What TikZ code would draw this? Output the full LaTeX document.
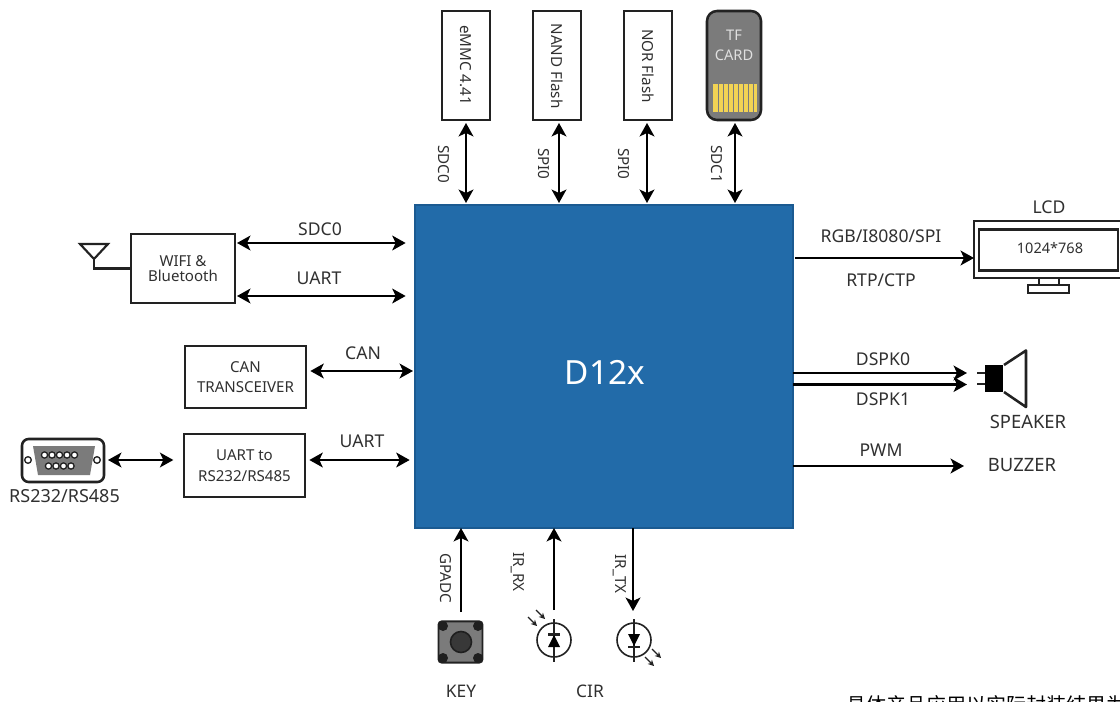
\documentclass[tikz,border=0pt]{standalone}
\usepackage{fontspec}
\setmainfont{Noto Sans}
\newfontfamily\cjkfont{Noto Sans CJK SC}
\usetikzlibrary{arrows.meta,calc}
\definecolor{ink}{HTML}{222222}
\definecolor{txt}{HTML}{303030}
\definecolor{socblue}{HTML}{226BA9}
\definecolor{socedge}{HTML}{1B5A91}
\definecolor{cardgray}{HTML}{7B7B7B}
\definecolor{gold}{HTML}{F2D354}
\tikzset{
  every node/.style={inner sep=0pt,outer sep=0pt,text=txt,align=center},
  boxn/.style n args={2}{draw=ink,line width=1.9pt,fill=white,minimum width=#1*0.75pt,minimum height=#2*0.75pt,font=\fontsize{11.3pt}{13.5pt}\selectfont},
  lab/.style={font=\fontsize{13.2pt}{15pt}\selectfont},
  vlab/.style={rotate=-90,font=\fontsize{11.4pt}{14pt}\selectfont},
  tipb/.style={>={Stealth[length=10pt,width=11pt,inset=2.5pt]}},
  both/.style={tipb,<->,draw=black,line width=1.9pt,shorten >=1.5pt,shorten <=1.5pt},
  fwd/.style={tipb,->,draw=black,line width=1.9pt},
  thin line/.style={draw=ink,line width=1.6pt},
}
\begin{document}
\begin{tikzpicture}[x=0.75pt,y=-0.75pt]
\useasboundingbox (0,0) rectangle (1120,702);
\clip (0,0) rectangle (1120,702);
\fill[white] (0,0) rectangle (1120,702);
% SoC
\node[draw=socedge,line width=1.8pt,fill=socblue,minimum width=283.5pt,minimum height=242.25pt] (main) at (604,366.5) {};
\node[text=white,font=\fontsize{25pt}{30pt}\selectfont] (mainlabel) at (605,372) {D12x};
% top memories
\node[boxn={48}{109}] (emmc) at (466,65.5) {};
\node[vlab] (emmct) at (466,65) {eMMC 4.41};
\node[boxn={48}{109}] (nand) at (557,65.5) {};
\node[vlab] (nandt) at (557,66) {NAND Flash};
\node[boxn={48}{109}] (nor) at (648,65.5) {};
\node[vlab] (nort) at (648,66) {NOR Flash};
\node[draw=ink,line width=1.9pt,fill=cardgray,rounded corners=7.5pt,minimum width=40.5pt,minimum height=81.75pt] (tf) at (734,65.5) {};
\node[text=white!88!black,font=\fontsize{11pt}{14.5pt}\selectfont] (tft) at (734,45.5) {TF\\CARD};
\fill[gold] (713,84) rectangle (757,112);
\foreach \i in {0,...,7} \draw[cardgray,line width=0.6pt] (717.9+\i*5,84) -- (717.9+\i*5,112);
\coordinate (a1) at (466,121);
\coordinate (a2) at (559,121);
\coordinate (a3) at (647,121);
\coordinate (a4) at (735,121);
\foreach \c in {a1,a2,a3,a4} \draw[both] (\c) -- (\c |- main.north);
\node[vlab] (l1) at (444,164) {SDC0};
\node[vlab] (l2) at (544,164) {SPI0};
\node[vlab] (l3) at (624,164) {SPI0};
\node[vlab] (l4) at (717,164) {SDC1};
% wifi
\node[boxn={104}{69}] (wifi) at (183,268.5) {WIFI \&\\[-2pt]Bluetooth};
\coordinate (w1) at (235,243);
\coordinate (w2) at (235,296);
\draw[both,shorten >=7pt] (w1) -- (w1 -| main.west);
\draw[both,shorten >=7pt] (w2) -- (w2 -| main.west);
\node[lab] (sdc0) at (320,229) {SDC0};
\node[lab] (uart1) at (319,278) {UART};
\coordinate (ant) at (94,259);
\draw[thin line] (80,244) -- (108,244) -- (ant) -- cycle;
\draw[thin line] (ant) |- (wifi.west);
% CAN
\node[boxn={121}{62}] (can) at (245.5,377) {CAN\\[2pt]TRANSCEIVER};
\coordinate (c1) at (309,371);
\draw[both,shorten <=1pt] (c1) -- (c1 -| main.west);
\node[lab] (canl) at (363,353) {CAN};
% UART to RS232
\node[boxn={121}{63}] (urs) at (244.5,465.5) {UART to\\[2pt]RS232/RS485};
\coordinate (u1) at (308,460);
\draw[both,shorten <=1pt,shorten >=4pt] (u1) -- (u1 -| main.west);
\node[lab] (uart2) at (362,441) {UART};
% DB9
\node[draw=ink,line width=1.9pt,rounded corners=5pt,fill=white,minimum width=61.5pt,minimum height=32.25pt] (db9) at (63,460.5) {};
\fill[cardgray] (33,446) -- (95,446) -- (90,475) -- (38,475) -- cycle;
\foreach \x in {44,51.5,59,66.5,74} \draw[ink,fill=white,line width=1pt] (\x+0.5,455) circle (3.1);
\foreach \x in {48,55.5,63,70.5} \draw[ink,fill=white,line width=1pt] (\x+0.5,466) circle (3.1);
\draw[ink,fill=white,line width=1pt] (28,460) circle (3.3);
\draw[ink,fill=white,line width=1pt] (97,460) circle (3.3);
\coordinate (d1) at (108,460);
\draw[both,shorten <=0pt,shorten >=8pt] (d1) -- (d1 -| urs.west);
\node[font=\fontsize{13.5pt}{16pt}\selectfont] (rs) at (64.5,496) {RS232/RS485};
% LCD
\node[draw=ink,line width=1.6pt,fill=white,minimum width=120pt,minimum height=42.75pt] (lcd) at (1054,249.5) {};
\node[draw=ink,line width=1.9pt,fill=white,minimum width=104.25pt,minimum height=30.75pt,font=\fontsize{10.9pt}{13pt}\selectfont] (screen) at (1048.5,250) {};
\node[font=\fontsize{10.9pt}{13pt}\selectfont] (res) at (1050,248) {1024*768};
\draw[ink,line width=1.4pt] (1039,278) -- (1039,285) (1059,278) -- (1059,285);
\draw[ink,line width=1.4pt,fill=white] (1028,285) rectangle (1069,293);
\node[lab] (lcdl) at (1049,207) {LCD};
\coordinate (l0) at (795,258);
\draw[fwd] (l0) -- (l0 -| lcd.west);
\node[lab] (rgb) at (881,236) {RGB/I8080/SPI};
\node[lab] (rtp) at (881,280) {RTP/CTP};
% speaker
\coordinate (spk0) at (793,373);
\coordinate (spk1) at (793,384.5);
\coordinate (spe0) at (967,373);
\coordinate (spe1) at (967,384.5);
\draw[fwd] (spk0) -- (spe0);
\draw[fwd] (spk1) -- (spe1);
\node[lab] (ds0) at (883,359) {DSPK0};
\node[lab] (ds1) at (883,399) {DSPK1};
\draw[ink,line width=1.4pt] (977,373) -- (986,373) (977,384) -- (986,384);
\fill[black] (985,365) rectangle (1003,392);
\draw[ink,line width=1.9pt,line join=round] (1004,365) -- (1026,350.5) -- (1026,407) -- (1004,392);
\node[lab,font=\fontsize{13.8pt}{15pt}\selectfont] (spkl) at (1028,422) {SPEAKER};
% buzzer
\coordinate (pw) at (793,466);
\coordinate (bz) at (964,466);
\draw[fwd] (pw) -- (bz);
\node[lab] (pwm) at (881,450) {PWM};
\node[lab,font=\fontsize{13.8pt}{15pt}\selectfont] (buz) at (1022,465) {BUZZER};
% bottom
\coordinate (k0) at (461,612);
\draw[fwd] (k0) -- (k0 |- main.south);
\node[vlab] (gp) at (446,578) {GPADC};
\coordinate (r0) at (554,610);
\draw[fwd] (r0) -- (r0 |- main.south);
\node[vlab] (rx) at (518,572) {IR\_RX};
\coordinate (t0) at (633,528);
\coordinate (t1) at (633,611);
\draw[fwd] (t0) -- (t1);
\node[vlab] (tx) at (620,574) {IR\_TX};
% key
\node[draw=ink,line width=1.4pt,fill=cardgray,rounded corners=2.5pt,minimum width=33pt,minimum height=31pt] (key) at (460.5,642) {};
\foreach \x/\y in {443/626,478/626,443/658,478/658} \fill[black!88] (\x,\y) circle (5);
\draw[black!88,fill=black!78,line width=1.2pt] (461,642) circle (10.5);
\node[font=\fontsize{13pt}{14pt}\selectfont] (keyl) at (461,691) {KEY};
\node[font=\fontsize{13pt}{14pt}\selectfont] (cir) at (590,691) {CIR};
% receiver
\draw[ink,line width=1.2pt] (554,640) circle (17);
\draw[ink,line width=1.2pt] (554,619) -- (554,662);
\draw[ink,line width=1.8pt] (548,634.5) -- (560,634.5);
\fill[black] (554,635) -- (548,647) -- (560,647) -- cycle;
\draw[-{Stealth[length=4.5pt,width=4.5pt]},ink,line width=1pt] (536,610) -- (545,619);
\draw[-{Stealth[length=4.5pt,width=4.5pt]},ink,line width=1pt] (528,617) -- (537,626);
% emitter
\draw[ink,line width=1.2pt] (634,640) circle (17);
\draw[ink,line width=1.2pt] (634,619) -- (634,662);
\draw[ink,line width=1.8pt] (628,647) -- (640,647);
\fill[black] (634,646) -- (628,634) -- (640,634) -- cycle;
\draw[-{Stealth[length=4.5pt,width=4.5pt]},ink,line width=1pt] (652,649) -- (661,658);
\draw[-{Stealth[length=4.5pt,width=4.5pt]},ink,line width=1pt] (645,657) -- (654,666);
% note
\node[anchor=west,font=\cjkfont\fontsize{15pt}{17pt}\selectfont,text=black] (note) at (846,705) {具体产品应用以实际封装结果为准};
\end{tikzpicture}
\end{document}
